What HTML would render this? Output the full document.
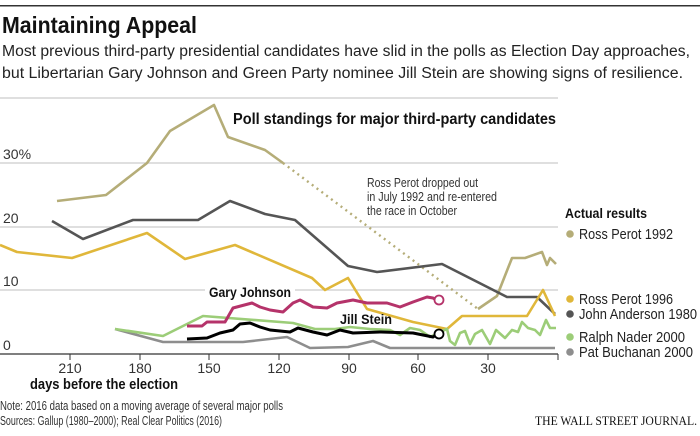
<!DOCTYPE html>
<html><head><meta charset="utf-8"><style>
body{margin:0;background:#fff;width:700px;height:431px;overflow:hidden}
svg text{font-family:"Liberation Sans Narrow","Liberation Sans",sans-serif}
</style></head><body>
<svg width="700" height="431" viewBox="0 0 700 431" xmlns="http://www.w3.org/2000/svg">
<rect x="0" y="5" width="700" height="1.5" fill="#333"/>
<text x="2" y="33" font-size="23" font-weight="bold" fill="#111" textLength="195" lengthAdjust="spacingAndGlyphs">Maintaining Appeal</text>
<text x="2" y="56" font-size="15.5" fill="#222" textLength="688" lengthAdjust="spacingAndGlyphs">Most previous third-party presidential candidates have slid in the polls as Election Day approaches,</text>
<text x="2" y="78" font-size="15.5" fill="#222" textLength="681" lengthAdjust="spacingAndGlyphs">but Libertarian Gary Johnson and Green Party nominee Jill Stein are showing signs of resilience.</text>
<g stroke="#ccc" stroke-width="1.2">
<line x1="0" y1="98" x2="558" y2="98"/><line x1="0" y1="163" x2="558" y2="163"/>
<line x1="0" y1="227" x2="558" y2="227"/><line x1="0" y1="290" x2="558" y2="290"/>
</g>
<line x1="0" y1="354" x2="558" y2="354" stroke="#333" stroke-width="1.2"/>
<g stroke="#333" stroke-width="1">
<line x1="70" y1="354" x2="70" y2="360"/><line x1="140" y1="354" x2="140" y2="360"/><line x1="209" y1="354" x2="209" y2="360"/><line x1="279" y1="354" x2="279" y2="360"/><line x1="349" y1="354" x2="349" y2="360"/><line x1="418" y1="354" x2="418" y2="360"/><line x1="488" y1="354" x2="488" y2="360"/><line x1="558" y1="354" x2="558" y2="360"/>
</g>
<g font-size="14" fill="#333" text-anchor="middle">
<text x="70" y="373">210</text><text x="140" y="373">180</text><text x="209" y="373">150</text><text x="279" y="373">120</text><text x="349" y="373">90</text><text x="418" y="373">60</text><text x="488" y="373">30</text>
</g>
<g font-size="14" fill="#333">
<text x="3" y="159">30%</text><text x="3" y="223">20</text><text x="3" y="286">10</text><text x="3" y="350">0</text>
</g>
<text x="30" y="389" font-size="14.5" font-weight="bold" fill="#111" textLength="148" lengthAdjust="spacingAndGlyphs">days before the election</text>
<text x="0" y="410" font-size="13" fill="#333" textLength="283" lengthAdjust="spacingAndGlyphs">Note: 2016 data based on a moving average of several major polls</text>
<text x="0" y="425" font-size="13" fill="#333" textLength="222" lengthAdjust="spacingAndGlyphs">Sources: Gallup (1980–2000); Real Clear Politics (2016)</text>
<text x="535" y="425" font-size="13" fill="#111" style="font-family:'Liberation Serif',serif" textLength="162" lengthAdjust="spacingAndGlyphs">THE WALL STREET JOURNAL.</text>
<text x="233" y="124" font-size="16" font-weight="bold" fill="#111" textLength="323" lengthAdjust="spacingAndGlyphs">Poll standings for major third-party candidates</text>
<g font-size="13" fill="#333">
<text x="367" y="187" textLength="111" lengthAdjust="spacingAndGlyphs">Ross Perot dropped out</text>
<text x="367" y="201" textLength="130" lengthAdjust="spacingAndGlyphs">in July 1992 and re-entered</text>
<text x="367" y="215" textLength="90" lengthAdjust="spacingAndGlyphs">the race in October</text>
</g>
<g fill="none" stroke-width="2.6" stroke-linejoin="round">
<polyline stroke="#b5ad78" points="57,201 106,195 147,163 170,131 214,105 228,137 265,150 283,163"/>
<polyline stroke="#b5ad78" stroke-dasharray="2,4" stroke-width="2.4" points="283,163 478,309"/>
<polyline stroke="#b5ad78" points="478,309 497,296 512,258 525,258 542,252 547,265 550,258 556,264"/>
<polyline stroke="#555" points="52,221 83,239 133,220 198,220 230,201 265,214 295,220 348,266 377,272 442,264 507,297 537,297 555,314"/>
<polyline stroke="#e0b73a" points="0,245 17,252 72,258 147,233 185,259 235,245 312,278 325,290 348,278 367,309 413,322 447,329 462,316 527,316 543,290 555,316"/>
<polyline stroke="#8e8e8e" points="115,329 163,342 243,342 287,337 310,348 348,347 373,341 390,348 447,348 555,348"/>
<polyline stroke="#9ccd78" points="115,329 163,336 203,316 293,323 315,329 335,329 350,327 370,329 390,330 400,335 410,328 420,330 430,337 440,332 447,329 450,341 455,345 460,333 465,331 470,344 475,334 482,330 490,344 496,330 505,338 512,330 518,332 522,322 528,328 535,330 540,335 546,320 550,328 556,328"/>
<polyline stroke="#b5336a" stroke-width="3" points="187,326 202,326 207,322 225,322 233,308 252,303 260,307 270,310 283,312 293,303 300,300 313,307 327,308 337,303 353,300 367,303 387,303 400,307 413,302 427,297 433,298 436,300"/>
<polyline stroke="#000" stroke-width="3" points="187,339 207,338 220,333 233,330 240,324 250,323 260,327 270,330 290,332 298,328 313,332 327,335 340,330 353,333 380,332 413,333 433,337 436,335"/>
</g>
<circle cx="439" cy="300" r="4.5" fill="#fff" stroke="#b5336a" stroke-width="1.8"/>
<circle cx="439" cy="334" r="4.5" fill="#fff" stroke="#000" stroke-width="1.8"/>
<rect x="205" y="283" width="90" height="16" fill="#fff"/>
<text x="209" y="297" font-size="14" font-weight="bold" fill="#111" textLength="82" lengthAdjust="spacingAndGlyphs">Gary Johnson</text>
<text x="340" y="324" font-size="14" font-weight="bold" fill="#111" textLength="52" lengthAdjust="spacingAndGlyphs">Jill Stein</text>
<text x="565" y="218" font-size="14" font-weight="bold" fill="#111" textLength="82" lengthAdjust="spacingAndGlyphs">Actual results</text>
<g font-size="14.5" fill="#222">
<circle cx="570" cy="234" r="3.8" fill="#b5ad78"/><text x="579" y="239" textLength="94" lengthAdjust="spacingAndGlyphs">Ross Perot 1992</text>
<circle cx="570" cy="299" r="3.8" fill="#e0b73a"/><text x="579" y="304" textLength="94" lengthAdjust="spacingAndGlyphs">Ross Perot 1996</text>
<circle cx="570" cy="314" r="3.8" fill="#555"/><text x="579" y="319" textLength="118" lengthAdjust="spacingAndGlyphs">John Anderson 1980</text>
<circle cx="570" cy="337" r="3.8" fill="#9ccd78"/><text x="579" y="342" textLength="106" lengthAdjust="spacingAndGlyphs">Ralph Nader 2000</text>
<circle cx="570" cy="352" r="3.8" fill="#8e8e8e"/><text x="579" y="357" textLength="114" lengthAdjust="spacingAndGlyphs">Pat Buchanan 2000</text>
</g>
</svg>
</body></html>
